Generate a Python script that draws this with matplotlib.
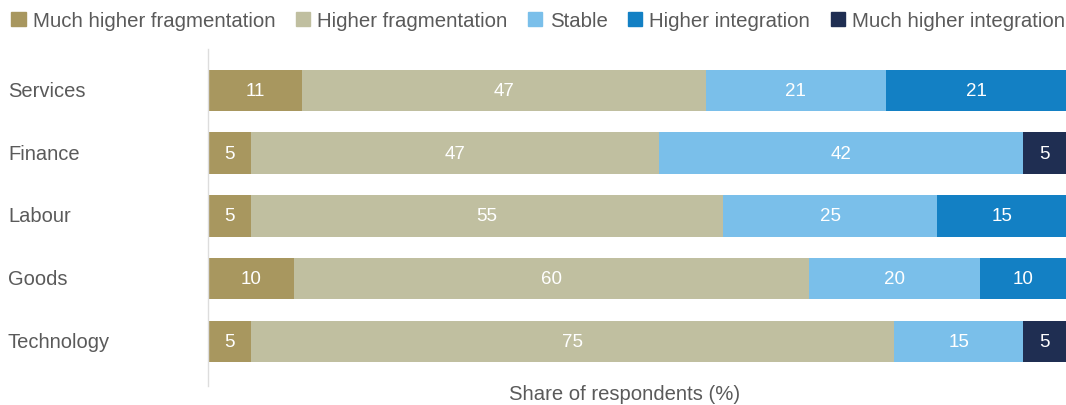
import matplotlib.pyplot as plt
import matplotlib.patches as patches
import numpy as np

plt.rcParams['font.family'] = ['Liberation Sans', 'DejaVu Sans']

categories = ['Services', 'Finance', 'Labour', 'Goods', 'Technology']
series_names = ['Much higher fragmentation', 'Higher fragmentation', 'Stable',
                'Higher integration', 'Much higher integration']
much_frag = [11, 5, 5, 10, 5]
higher_frag = [47, 47, 55, 60, 75]
stable = [21, 42, 25, 20, 15]
higher_int = [21, 0, 15, 10, 0]
much_int = [0, 5, 0, 0, 5]
colors = ['#A8975F', '#C0BFA0', '#7ABFEA', '#1380C4', '#1F2E52']

values = np.array([much_frag, higher_frag, stable, higher_int, much_int], dtype=float)
# rows are shares of respondents, scale each bar to fill 100%
shares = values / values.sum(axis=0) * 100

fig = plt.figure(figsize=(10.66, 4.06), dpi=100)
ax = fig.add_axes([0.1951, 0.047, 0.805, 0.83])

y = np.arange(len(categories))
left = np.zeros(len(categories))
for k in range(len(series_names)):
    ax.barh(y, shares[k], left=left, height=0.66, color=colors[k], label=series_names[k])
    for i in range(len(categories)):
        if values[k, i] > 0:
            ax.text(left[i] + shares[k, i] / 2, y[i], f'{int(values[k, i])}',
                    ha='center', va='center', color='white', fontsize=13.5)
    left += shares[k]

ax.set_xlim(0, 100)
ax.set_ylim(4.71, -0.66)
ax.set_yticks(y)
ax.set_yticklabels(categories, fontsize=14.5, color='#5a5a5a')
ax.tick_params(axis='y', length=0, pad=(208 - 8) * 0.72)
for lbl in ax.get_yticklabels():
    lbl.set_horizontalalignment('left')
    lbl.set_verticalalignment('center')
ax.set_xticks([])
for s in ['top', 'right', 'bottom']:
    ax.spines[s].set_visible(False)
ax.spines['left'].set_color('#DDDDDD')
ax.spines['left'].set_linewidth(1)
fig.text(0.586, 1 - 395 / 406, 'Share of respondents (%)', fontsize=14.6,
         color='#5a5a5a', ha='center', va='center')

handles = [patches.Patch(color=c) for c in colors]
fig.legend(handles, series_names, loc='upper center', bbox_to_anchor=(0.505, 1.015),
           ncol=5, frameon=False, fontsize=14.7, handlelength=0.7, handleheight=0.7,
           handletextpad=0.35, columnspacing=1.0, labelcolor='#5a5a5a')

fig.savefig('out.png', dpi=100)
